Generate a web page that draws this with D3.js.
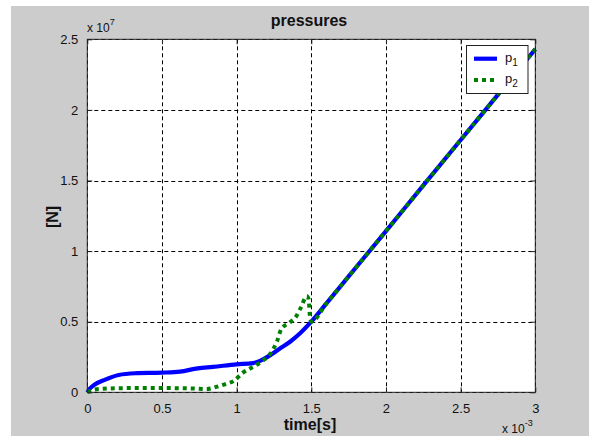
<!DOCTYPE html>
<html>
<head>
<meta charset="utf-8">
<script src="https://cdn.jsdelivr.net/npm/d3@7"></script>
<style>
html,body{margin:0;padding:0;background:#fff;}
svg{display:block;}
text{font-family:"Liberation Sans",Arial,Helvetica,sans-serif;}
</style>
</head>
<body>
<svg id="chart" width="589" height="436"></svg>
<script>
// time in units of 1e-3 s, pressure in units of 1e7 N
const p1Time  = [0, 0.02, 0.05, 0.12, 0.21, 0.32, 0.5, 0.62, 0.74, 0.84, 1.0, 1.11, 1.16, 1.22, 1.29, 1.36, 1.425, 1.5, 1.6, 1.75, 2.0, 2.25, 2.5, 2.75, 3.0];
const p1Value = [0, 0.03, 0.055, 0.09, 0.123, 0.135, 0.139, 0.146, 0.17, 0.18, 0.198, 0.207, 0.224, 0.26, 0.31, 0.36, 0.418, 0.5, 0.628, 0.821, 1.142, 1.465, 1.787, 2.108, 2.43];
const p2Time  = [0, 0.05, 0.1, 0.3, 0.5, 0.7, 0.8, 0.87, 0.93, 0.98, 1.04, 1.1, 1.17, 1.235, 1.27, 1.3, 1.35, 1.40, 1.43, 1.47, 1.482, 1.49, 1.5, 1.6, 1.75, 2.0, 2.25, 2.5, 2.75, 3.0];
const p2Value = [0, 0.02, 0.025, 0.03, 0.03, 0.027, 0.023, 0.04, 0.06, 0.08, 0.137, 0.174, 0.22, 0.288, 0.36, 0.45, 0.49, 0.54, 0.60, 0.68, 0.66, 0.55, 0.5, 0.628, 0.821, 1.142, 1.465, 1.787, 2.108, 2.43];
const xTicks = [0, 0.5, 1, 1.5, 2, 2.5, 3];
const yTicks = [0, 0.5, 1, 1.5, 2, 2.5];
const seriesNames = ["p", "p"];
const seriesSubs = ["1", "2"];

const svg = d3.select("#chart");
const L = 87.3, R = 535.3, T = 39.3, B = 392.3;
const x = d3.scaleLinear().domain([0, 3]).range([L, R]);
const y = d3.scaleLinear().domain([0, 2.5]).range([B, T]);

// figure background
svg.append("rect").attr("x", 11).attr("y", 6).attr("width", 578).attr("height", 430).attr("fill", "#cccccc");
// axes background
svg.append("rect").attr("x", L).attr("y", T).attr("width", R - L).attr("height", B - T).attr("fill", "#fff");

// grid
const grid = svg.append("g");
grid.selectAll(".vg").data(xTicks).enter().append("line")
  .attr("x1", d => Math.round(x(d)) + 0.5).attr("x2", d => Math.round(x(d)) + 0.5)
  .attr("y1", T).attr("y2", B)
  .attr("stroke", "#000").attr("stroke-width", 1).attr("stroke-dasharray", "4,3");
grid.selectAll(".hg").data(yTicks).enter().append("line")
  .attr("y1", d => Math.round(y(d)) + 0.5).attr("y2", d => Math.round(y(d)) + 0.5)
  .attr("x1", L).attr("x2", R)
  .attr("stroke", "#000").attr("stroke-width", 1).attr("stroke-dasharray", "4,3");

// axes with inward ticks
svg.append("g").attr("transform", `translate(0,${B})`)
  .call(d3.axisBottom(x).tickValues(xTicks).tickSizeInner(-5).tickSizeOuter(0).tickPadding(11).tickFormat(d3.format("")));
svg.append("g").attr("transform", `translate(${L},0)`)
  .call(d3.axisLeft(y).tickValues(yTicks).tickSizeInner(-5).tickSizeOuter(0).tickPadding(9).tickFormat(d3.format("")));
svg.append("g").attr("transform", `translate(0,${T})`)
  .call(d3.axisTop(x).tickValues(xTicks).tickSizeInner(-5).tickSizeOuter(0).tickFormat(""));
svg.append("g").attr("transform", `translate(${R},0)`)
  .call(d3.axisRight(y).tickValues(yTicks).tickSizeInner(-5).tickSizeOuter(0).tickFormat(""));
svg.selectAll(".domain").remove();
svg.selectAll(".tick line").attr("stroke", "#222");
svg.selectAll(".tick text").attr("font-size", 13).attr("fill", "#111")
  .style("font-family", '"Liberation Sans",Arial,sans-serif');

// data lines
const line = d3.line().x(d => x(d[0])).y(d => y(d[1])).curve(d3.curveMonotoneX);
const p1 = p1Time.map((t, i) => [t, p1Value[i]]);
const p2 = p2Time.map((t, i) => [t, p2Value[i]]);
svg.append("path").datum(p1).attr("d", line).attr("fill", "none")
  .attr("stroke", "#0000ff").attr("stroke-width", 4.2);
svg.append("path").datum(p2).attr("d", line).attr("fill", "none")
  .attr("stroke", "#008000").attr("stroke-width", 4).attr("stroke-dasharray", "4,4");

// box
svg.append("rect").attr("x", L).attr("y", T).attr("width", R - L).attr("height", B - T)
  .attr("fill", "none").attr("stroke", "#222").attr("stroke-width", 1);

// exponent labels
const e7 = svg.append("text").attr("x", 87).attr("y", 32).attr("font-size", 12).attr("fill", "#111");
e7.append("tspan").text("x 10");
e7.append("tspan").attr("dy", -7).attr("font-size", 9).text("7");
const e3 = svg.append("text").attr("x", 502).attr("y", 433).attr("font-size", 12).attr("fill", "#111");
e3.append("tspan").text("x 10");
e3.append("tspan").attr("dy", -7).attr("font-size", 9).text("-3");

// title and labels
svg.append("text").attr("x", 309).attr("y", 26).attr("text-anchor", "middle")
  .attr("font-size", 16).attr("font-weight", "bold").attr("fill", "#111").text("pressures");
svg.append("text").attr("x", 310).attr("y", 430).attr("text-anchor", "middle")
  .attr("font-size", 16).attr("font-weight", "bold").attr("fill", "#111").text("time[s]");
svg.append("text").attr("transform", "translate(58,217) rotate(-90)").attr("text-anchor", "middle")
  .attr("font-size", 16).attr("font-weight", "bold").attr("fill", "#111").text("[N]");

// legend
const lg = svg.append("g");
lg.append("rect").attr("x", 466.5).attr("y", 45.5).attr("width", 61.5).attr("height", 48)
  .attr("fill", "#fff").attr("stroke", "#222").attr("stroke-width", 1);
const legendStyles = [{c: "#0000ff", dash: null, w: 4.2}, {c: "#008000", dash: "4,4", w: 4}];
seriesNames.forEach((n, i) => {
  const yy = 58.7 + i * 21.3;
  lg.append("line").attr("x1", 474).attr("x2", 497).attr("y1", yy).attr("y2", yy)
    .attr("stroke", legendStyles[i].c).attr("stroke-width", legendStyles[i].w)
    .attr("stroke-dasharray", legendStyles[i].dash);
  const t = lg.append("text").attr("x", 505).attr("y", yy + 3).attr("font-size", 13).attr("fill", "#111");
  t.append("tspan").text(n);
  t.append("tspan").attr("dy", 4).attr("font-size", 10).text(seriesSubs[i]);
});
</script>
</body>
</html>
